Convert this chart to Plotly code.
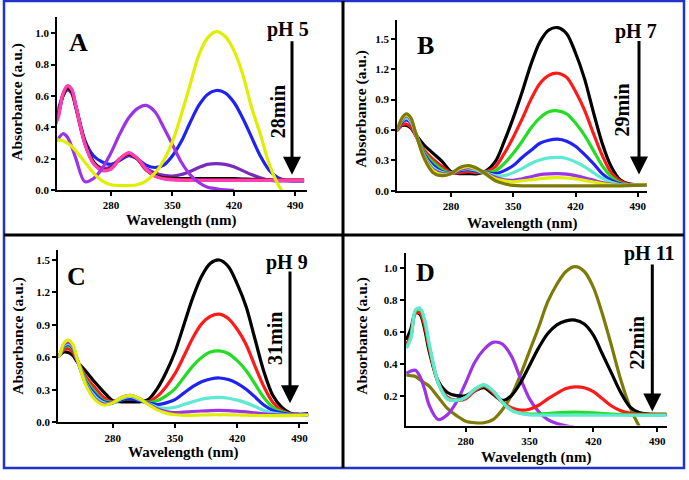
import plotly.graph_objects as go

# ---------------- data ----------------
WL = [215, 220, 225, 230, 235, 240, 250, 260, 270, 280, 290, 300, 310, 320, 330, 340,
      350, 360, 370, 380, 390, 400, 410, 420, 430, 440, 450, 460, 470, 480, 490, 500]
X_TICKS = [280, 350, 420, 490]

# Panel A (pH 5)
A_blue = [0.45, 0.52, 0.60, 0.64, 0.62, 0.53, 0.32, 0.22, 0.18, 0.165, 0.19, 0.22, 0.20, 0.16, 0.145, 0.16,
          0.22, 0.31, 0.43, 0.54, 0.61, 0.635, 0.62, 0.56, 0.46, 0.34, 0.22, 0.13, 0.08, 0.062, 0.06, 0.06]
A_violet = [0.40, 0.48, 0.60, 0.64, 0.62, 0.52, 0.30, 0.18, 0.14, 0.15, 0.20, 0.225, 0.20, 0.14, 0.11, 0.095,
            0.09, 0.10, 0.12, 0.145, 0.165, 0.17, 0.165, 0.15, 0.125, 0.10, 0.08, 0.065, 0.06, 0.06, 0.06, 0.06]
A_black = [0.42, 0.49, 0.60, 0.65, 0.63, 0.53, 0.31, 0.18, 0.13, 0.14, 0.20, 0.23, 0.20, 0.13, 0.095, 0.08,
           0.076, 0.075, 0.075, 0.075, 0.075, 0.075, 0.075, 0.074, 0.072, 0.07, 0.068, 0.066, 0.065, 0.065, 0.065, 0.065]
A_red = [0.40, 0.48, 0.61, 0.66, 0.64, 0.53, 0.30, 0.17, 0.13, 0.14, 0.20, 0.235, 0.20, 0.13, 0.09, 0.075,
         0.07, 0.067, 0.066, 0.065, 0.065, 0.065, 0.065, 0.065, 0.065, 0.065, 0.065, 0.065, 0.065, 0.065, 0.065, 0.065]
A_magenta = [0.40, 0.47, 0.61, 0.665, 0.645, 0.535, 0.30, 0.17, 0.125, 0.135, 0.20, 0.24, 0.205, 0.135, 0.09, 0.072,
             0.066, 0.063, 0.063, 0.063, 0.063, 0.063, 0.063, 0.063, 0.063, 0.063, 0.063, 0.063, 0.063, 0.063, 0.063, 0.063]
A_purple = [0.30, 0.33, 0.36, 0.34, 0.28, 0.20, 0.055, 0.075, 0.14, 0.24, 0.36, 0.46, 0.52, 0.54, 0.50, 0.40,
            0.29, 0.18, 0.10, 0.05, 0.02, 0.01, 0.003, 0.0, None, None, None, None, None, None, None, None]
A_yellow = [0.33, 0.32, 0.315, 0.30, 0.28, 0.25, 0.18, 0.11, 0.06, 0.035, 0.03, 0.03, 0.035, 0.06, 0.11, 0.19,
            0.31, 0.48, 0.67, 0.86, 0.97, 1.01, 0.98, 0.89, 0.74, 0.53, 0.36, 0.17, 0.04, -0.05, None, None]

# Panel B (pH 7)
B_black = [0.60, 0.62, 0.645, 0.645, 0.62, 0.56, 0.45, 0.37, 0.29, 0.19, 0.17, 0.17, 0.17, 0.20, 0.29, 0.49,
           0.72, 0.975, 1.25, 1.47, 1.587, 1.61, 1.55, 1.36, 1.11, 0.78, 0.47, 0.24, 0.11, 0.07, 0.06, 0.06]
B_red = [0.57, 0.60, 0.65, 0.66, 0.63, 0.55, 0.40, 0.31, 0.24, 0.18, 0.18, 0.19, 0.18, 0.19, 0.24, 0.37,
         0.53, 0.71, 0.905, 1.06, 1.14, 1.16, 1.12, 0.98, 0.80, 0.57, 0.35, 0.18, 0.10, 0.066, 0.058, 0.06]
B_green = [0.57, 0.61, 0.70, 0.73, 0.69, 0.58, 0.38, 0.28, 0.21, 0.175, 0.20, 0.21, 0.19, 0.185, 0.20, 0.27,
           0.37, 0.49, 0.62, 0.72, 0.78, 0.79, 0.76, 0.67, 0.55, 0.40, 0.25, 0.14, 0.08, 0.06, 0.058, 0.06]
B_blue = [0.57, 0.61, 0.68, 0.70, 0.67, 0.57, 0.36, 0.25, 0.19, 0.175, 0.20, 0.21, 0.19, 0.18, 0.17, 0.20,
          0.25, 0.33, 0.40, 0.47, 0.50, 0.51, 0.49, 0.44, 0.36, 0.27, 0.17, 0.105, 0.07, 0.058, 0.058, 0.06]
B_cyan = [0.57, 0.62, 0.69, 0.72, 0.68, 0.57, 0.35, 0.23, 0.18, 0.175, 0.21, 0.22, 0.20, 0.175, 0.15, 0.15,
          0.18, 0.22, 0.27, 0.305, 0.325, 0.33, 0.32, 0.285, 0.24, 0.18, 0.125, 0.085, 0.063, 0.058, 0.058, 0.06]
B_purple = [0.57, 0.62, 0.70, 0.74, 0.70, 0.58, 0.34, 0.21, 0.17, 0.17, 0.21, 0.23, 0.21, 0.17, 0.135, 0.11,
            0.105, 0.12, 0.14, 0.16, 0.168, 0.17, 0.165, 0.15, 0.13, 0.106, 0.082, 0.065, 0.057, 0.056, 0.058, 0.06]
B_yellow = [0.57, 0.62, 0.71, 0.75, 0.71, 0.58, 0.33, 0.20, 0.16, 0.17, 0.22, 0.24, 0.21, 0.165, 0.12, 0.10,
            0.09, 0.10, 0.11, 0.12, 0.128, 0.13, 0.127, 0.117, 0.104, 0.088, 0.072, 0.06, 0.055, 0.055, 0.058, 0.06]
B_olive = [0.57, 0.62, 0.72, 0.76, 0.72, 0.58, 0.32, 0.18, 0.15, 0.17, 0.23, 0.25, 0.22, 0.16, 0.10, 0.07,
           0.055, 0.05, 0.05, 0.05, 0.05, 0.05, 0.05, 0.05, 0.05, 0.05, 0.05, 0.05, 0.05, 0.052, 0.055, 0.058]

# Panel C (pH 9)
C_black = [0.60, 0.62, 0.65, 0.645, 0.62, 0.56, 0.47, 0.37, 0.28, 0.20, 0.19, 0.19, 0.19, 0.21, 0.31, 0.46,
           0.65, 0.90, 1.15, 1.35, 1.47, 1.50, 1.44, 1.28, 1.07, 0.77, 0.47, 0.25, 0.14, 0.085, 0.075, 0.08]
C_red = [0.60, 0.62, 0.67, 0.68, 0.65, 0.57, 0.42, 0.32, 0.23, 0.19, 0.22, 0.24, 0.21, 0.19, 0.24, 0.33,
         0.45, 0.61, 0.78, 0.91, 0.98, 1.00, 0.96, 0.86, 0.72, 0.52, 0.33, 0.185, 0.11, 0.08, 0.072, 0.075]
C_green = [0.60, 0.62, 0.69, 0.71, 0.68, 0.58, 0.39, 0.28, 0.20, 0.185, 0.21, 0.23, 0.21, 0.185, 0.20, 0.245,
           0.31, 0.415, 0.52, 0.60, 0.65, 0.66, 0.636, 0.57, 0.48, 0.355, 0.23, 0.14, 0.097, 0.075, 0.07, 0.072]
C_blue = [0.60, 0.62, 0.70, 0.72, 0.69, 0.58, 0.37, 0.26, 0.19, 0.18, 0.21, 0.22, 0.20, 0.18, 0.165, 0.18,
          0.21, 0.27, 0.33, 0.375, 0.40, 0.41, 0.396, 0.36, 0.305, 0.235, 0.16, 0.11, 0.085, 0.072, 0.07, 0.072]
C_cyan = [0.60, 0.62, 0.71, 0.73, 0.70, 0.58, 0.36, 0.24, 0.18, 0.18, 0.22, 0.24, 0.21, 0.175, 0.14, 0.13,
          0.14, 0.165, 0.19, 0.214, 0.227, 0.23, 0.223, 0.205, 0.18, 0.146, 0.11, 0.086, 0.075, 0.07, 0.068, 0.07]
C_purple = [0.60, 0.62, 0.72, 0.74, 0.71, 0.58, 0.35, 0.22, 0.17, 0.18, 0.23, 0.25, 0.22, 0.17, 0.125, 0.10,
            0.09, 0.095, 0.10, 0.105, 0.109, 0.11, 0.108, 0.103, 0.097, 0.087, 0.078, 0.071, 0.068, 0.067, 0.067, 0.07]
C_yellow = [0.60, 0.62, 0.73, 0.76, 0.72, 0.59, 0.34, 0.21, 0.16, 0.18, 0.23, 0.25, 0.22, 0.165, 0.115, 0.085,
            0.07, 0.065, 0.065, 0.068, 0.07, 0.07, 0.07, 0.068, 0.066, 0.064, 0.062, 0.062, 0.062, 0.063, 0.065, 0.068]

# Panel D (pH 11)
D_olive = [0.33, 0.325, 0.32, 0.30, 0.28, 0.26, 0.19, 0.12, 0.075, 0.04, 0.03, 0.03, 0.05, 0.11, 0.20, 0.33,
           0.48, 0.63, 0.79, 0.90, 0.98, 1.01, 0.98, 0.88, 0.71, 0.51, 0.30, 0.13, 0.01, -0.08, None, None]
D_purple = [0.34, 0.355, 0.36, 0.32, 0.24, 0.14, 0.05, 0.08, 0.16, 0.28, 0.41, 0.49, 0.535, 0.525, 0.45, 0.31,
            0.18, 0.10, 0.05, 0.025, 0.01, 0.0, None, None, None, None, None, None, None, None, None, None]
D_black = [0.55, 0.62, 0.72, 0.71, 0.62, 0.48, 0.29, 0.22, 0.20, 0.20, 0.23, 0.25, 0.21, 0.17, 0.20, 0.28,
           0.39, 0.50, 0.59, 0.645, 0.67, 0.675, 0.65, 0.58, 0.46, 0.34, 0.22, 0.13, 0.095, 0.085, 0.083, 0.083]
D_red = [0.52, 0.58, 0.72, 0.72, 0.64, 0.50, 0.28, 0.19, 0.17, 0.18, 0.23, 0.26, 0.22, 0.16, 0.125, 0.11,
         0.115, 0.14, 0.18, 0.215, 0.245, 0.255, 0.25, 0.225, 0.18, 0.135, 0.105, 0.09, 0.085, 0.085, 0.083, 0.083]
D_green = [0.50, 0.57, 0.73, 0.745, 0.67, 0.52, 0.28, 0.18, 0.17, 0.19, 0.24, 0.265, 0.23, 0.16, 0.11, 0.09,
           0.085, 0.085, 0.088, 0.092, 0.095, 0.097, 0.095, 0.092, 0.088, 0.085, 0.082, 0.08, 0.08, 0.08, 0.08, 0.08]
D_cyan = [0.50, 0.56, 0.74, 0.75, 0.68, 0.53, 0.28, 0.18, 0.17, 0.19, 0.24, 0.27, 0.23, 0.16, 0.11, 0.088,
          0.08, 0.078, 0.078, 0.078, 0.078, 0.078, 0.078, 0.078, 0.077, 0.077, 0.077, 0.077, 0.077, 0.077, 0.077, 0.077]

PANEL_TEXT = {
    "A": ("pH 5", "28min"),
    "B": ("pH 7", "29min"),
    "C": ("pH 9", "31min"),
    "D": ("pH 11", "22min"),
}

# ---------------- styling ----------------
BLACK, RED, GREEN, BLUE = "#000000", "#ff1a1a", "#25dc25", "#1f22f0"
CYAN, PURPLE, YELLOW, OLIVE = "#5fe8d2", "#9d33e6", "#e0ee00", "#7d7a08"
MAGENTA, VIOLET = "#ff3fb8", "#7a2bb8"
SERIF = "Liberation Serif"
W, H = 689, 480


def fx(p):
    return p / W


def fy(p):
    return 1 - p / H


panels = [
    # name, axis suffix, x px domain, y px (top,bottom), x range, y range, y ticks, series
    ("A", "", (57.3, 306.7), (17, 192.7), [218.7, 503], [0, 1.104], [0, 0.2, 0.4, 0.6, 0.8, 1.0],
     [(A_blue, BLUE), (A_violet, VIOLET), (A_black, BLACK), (A_red, RED), (A_magenta, MAGENTA),
      (A_purple, PURPLE), (A_yellow, YELLOW)]),
    ("B", "2", (397.3, 646.7), (20, 193.3), [219.7, 500], [0, 1.688], [0, 0.3, 0.6, 0.9, 1.2, 1.5],
     [(B_black, BLACK), (B_red, RED), (B_green, GREEN), (B_blue, BLUE), (B_cyan, CYAN),
      (B_purple, PURPLE), (B_yellow, YELLOW), (B_olive, OLIVE)]),
    ("C", "3", (58.3, 308.3), (253, 427.7), [218.8, 500], [0, 1.594], [0, 0.3, 0.6, 0.9, 1.2, 1.5],
     [(C_black, BLACK), (C_red, RED), (C_green, GREEN), (C_blue, BLUE), (C_cyan, CYAN),
      (C_purple, PURPLE), (C_yellow, YELLOW)]),
    ("D", "4", (405.7, 667.3), (256.7, 431), [214.3, 501], [0.012, 1.093], [0.2, 0.4, 0.6, 0.8, 1.0],
     [(D_olive, OLIVE), (D_purple, PURPLE), (D_black, BLACK), (D_red, RED), (D_green, GREEN),
      (D_cyan, CYAN)]),
]

fig = go.Figure()
layout = {}
tickfont = dict(family=SERIF, size=11, color="black", weight="bold")

for name, suf, xd, yd, xr, yr, yt, series in panels:
    for vals, col in series:
        fig.add_trace(go.Scatter(
            x=WL, y=vals, mode="lines",
            line=dict(color=col, width=3.2, shape="spline", smoothing=0.9),
            xaxis="x" + suf, yaxis="y" + suf, hoverinfo="skip", showlegend=False))
    layout["xaxis" + suf] = dict(
        domain=[fx(xd[0]), fx(xd[1])], range=xr, anchor="y" + suf,
        tickvals=X_TICKS, ticks="outside", ticklen=4, tickwidth=1.5, tickcolor="black",
        showline=True, linewidth=2, linecolor="black", showgrid=False, zeroline=False,
        tickfont=tickfont)
    layout["yaxis" + suf] = dict(
        domain=[fy(yd[1]), fy(yd[0])], range=yr, anchor="x" + suf,
        tickvals=yt, tickformat=".1f", ticks="outside", ticklen=4, tickwidth=1.5, tickcolor="black",
        showline=True, linewidth=2, linecolor="black", showgrid=False, zeroline=False,
        tickfont=tickfont)

fig.update_layout(**layout)

ann = []


def text(t, x, y, size, angle=0):
    ann.append(dict(text=t, x=fx(x), y=fy(y), xref="paper", yref="paper", showarrow=False,
                    xanchor="center", yanchor="middle", textangle=angle,
                    font=dict(family=SERIF, size=size, color="black", weight="bold")))


letters = {"A": (78.3, 43.3), "B": (425, 45.7), "C": (76.7, 280), "D": (425, 275.7)}
ph_pos = {"A": (288.3, 30), "B": (635.7, 31.7), "C": (287.3, 265.7), "D": (649, 256.7)}
min_pos = {"A": (278.3, 113.3), "B": (622.3, 111.7), "C": (275, 343.3), "D": (637.3, 347.5)}
abs_pos = {"A": (17, 103), "B": (361, 110), "C": (18, 340), "D": (362, 340)}
wl_pos = {"A": (180.8, 223), "B": (522.3, 226), "C": (182.5, 458), "D": (535.7, 463)}
arrows = {"A": (292, 42, 177), "B": (639, 41.7, 176.7), "C": (290, 275, 408.3), "D": (652.3, 268.3, 416.7)}

for k in "ABCD":
    ph, mins = PANEL_TEXT[k]
    text(k, *letters[k], 26)
    text(ph, *ph_pos[k], 20)
    text(mins, *min_pos[k], 20, -90)
    text("Absorbance (a.u.)", *abs_pos[k], 15.5, -90)
    text("Wavelength (nm)", *wl_pos[k], 15)
    ax_, top, tip = arrows[k]
    ann.append(dict(text="", x=fx(ax_), y=fy(tip), xref="paper", yref="paper", showarrow=True,
                    ax=0, ay=-(tip - top), arrowhead=2, arrowsize=1.2, arrowwidth=3,
                    arrowcolor="black", standoff=0))

shapes = [
    dict(type="rect", xref="paper", yref="paper", x0=fx(4), x1=fx(684), y0=fy(474), y1=fy(1),
         line=dict(color="#2233cc", width=2.5)),
    dict(type="line", xref="paper", yref="paper", x0=fx(343), x1=fx(343), y0=fy(474), y1=fy(1),
         line=dict(color="black", width=3)),
    dict(type="line", xref="paper", yref="paper", x0=fx(4), x1=fx(684), y0=fy(238), y1=fy(238),
         line=dict(color="black", width=3)),
]

fig.update_layout(width=W, height=H, margin=dict(l=0, r=0, t=0, b=0),
                  paper_bgcolor="white", plot_bgcolor="white",
                  annotations=ann, shapes=shapes, showlegend=False)

fig.write_html("out.html", config={"displayModeBar": False},
               post_script="document.body.style.margin='0px';document.body.style.padding='0px';")
